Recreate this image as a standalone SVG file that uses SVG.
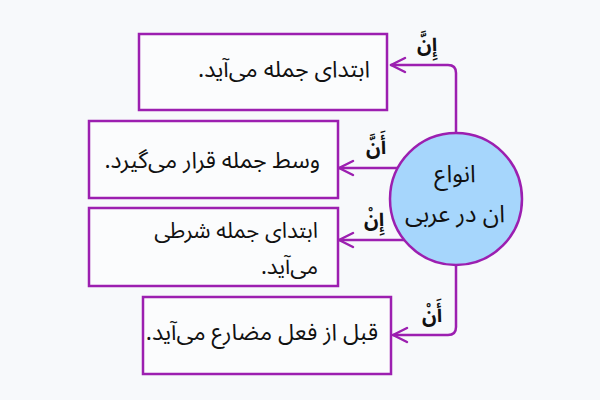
<svg xmlns="http://www.w3.org/2000/svg" width="600" height="400" viewBox="0 0 600 400">
<style>
.box{fill:#fbfcfd;stroke:#9c1fb0;stroke-width:2.5}
.con{fill:none;stroke:#9c1fb0;stroke-width:2.5;stroke-linecap:round;stroke-linejoin:round}
.t{font-family:"Noto Sans Arabic","Noto Sans","DejaVu Sans",sans-serif;font-size:23px;fill:#111;direction:rtl}
.lbl{font-family:"Noto Sans Arabic","Noto Sans","DejaVu Sans",sans-serif;font-size:20px;font-weight:bold;fill:#111;text-anchor:middle;direction:rtl}
</style>
<rect width="600" height="400" fill="#f7f9fb"/>
<g id="connectors">
<path class="con" d="M456,133 V73 Q456,65 448,65 H391"/>
<path class="con" d="M405,58 L391,65 L405,72"/>
<path class="con" d="M398,168 H339"/>
<path class="con" d="M353,161 L339,168 L353,175"/>
<path class="con" d="M404,240 H339"/>
<path class="con" d="M353,233 L339,240 L353,247"/>
<path class="con" d="M456,265 V327 Q456,335 448,335 H393"/>
<path class="con" d="M407,328 L393,335 L407,342"/>
<text class="lbl" x="427" y="51">إِنَّ</text>
<text class="lbl" x="376" y="154">أَنَّ</text>
<text class="lbl" x="374" y="226">إِنْ</text>
<text class="lbl" x="432" y="322">أَنْ</text>
</g>
<g id="box1">
<rect class="box" x="139" y="34" width="248" height="76"/>
<text class="t" x="370" y="77" text-anchor="start">ابتدای جمله می‌آید.</text>
</g>
<g id="box2">
<rect class="box" x="89" y="121" width="249" height="77"/>
<text class="t" x="320" y="168" text-anchor="start">وسط جمله قرار می‌گیرد.</text>
</g>
<g id="box3">
<rect class="box" x="89" y="208" width="249" height="78"/>
<text class="t" text-anchor="start" style="font-size:22px"><tspan x="318" y="238">ابتدای جمله شرطی</tspan><tspan x="318" y="274">می‌آید.</tspan></text>
</g>
<g id="box4">
<rect class="box" x="143" y="297" width="248" height="77"/>
<text class="t" x="378" y="340" text-anchor="start">قبل از فعل مضارع می‌آید.</text>
</g>
<g id="center">
<circle cx="456" cy="199" r="66" fill="#a6d6fc" stroke="#9c1fb0" stroke-width="2.5"/>
<text class="t" text-anchor="middle" style="font-size:24px"><tspan x="455" y="182">انواع</tspan><tspan x="455" y="222">ان در عربی</tspan></text>
</g>
</svg>
